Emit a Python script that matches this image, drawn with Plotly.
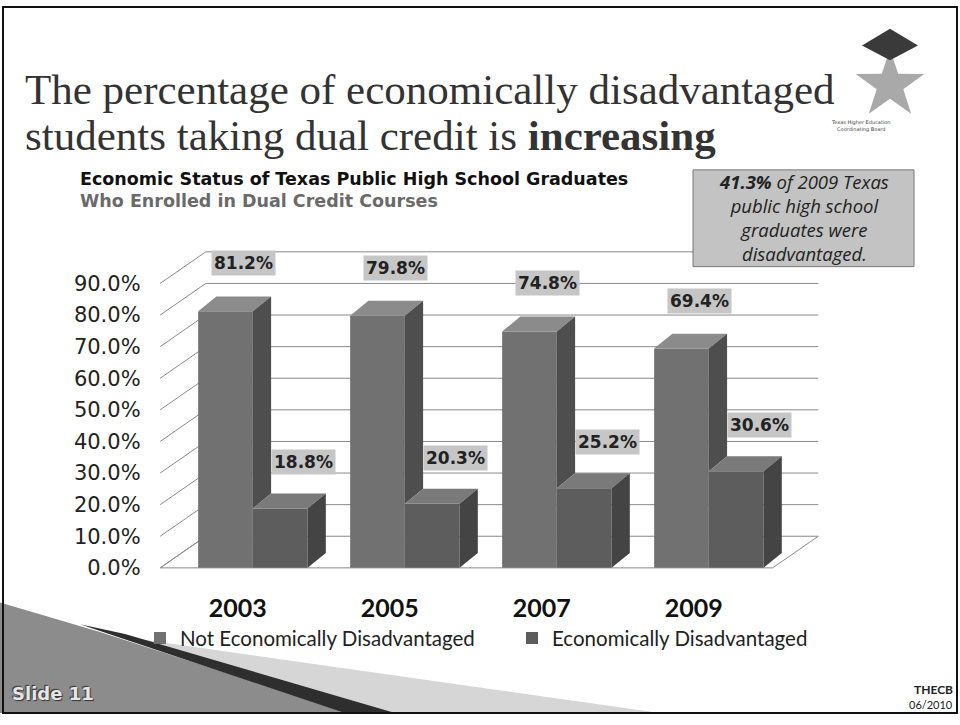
import plotly.graph_objects as go
import math

# ---------------- data ----------------
years = ["2003", "2005", "2007", "2009"]
not_disadv = [81.2, 79.8, 74.8, 69.4]
disadv = [18.8, 20.3, 25.2, 30.6]
series_names = ["Not Economically Disadvantaged", "Economically Disadvantaged"]
y_ticks = [0, 10, 20, 30, 40, 50, 60, 70, 80, 90]
callout_lines = ["<b>41.3%</b> of 2009 Texas", "public high school", "graduates were", "disadvantaged."]

W, H = 960, 725
def px(x):
    return x / W
def py(y):
    return 1 - y / H

xs = list(range(len(years)))
BW = 0.36          # bar width (category units)
OFF_NE, OFF_E = -0.42, -0.06
DX, DY = 0.12, 4.7  # bar depth (x units, value units)
WX, WY = 0.30, 10.0  # wall depth
LABEL_SHIFT = -0.16  # category labels sit on the front edge of the 3D floor

fig = go.Figure()
fig.add_trace(go.Bar(x=xs, y=not_disadv, name=series_names[0], width=BW, offset=OFF_NE,
                     marker=dict(color="#717171", line=dict(width=0))))
fig.add_trace(go.Bar(x=xs, y=disadv, name=series_names[1], width=BW, offset=OFF_E,
                     marker=dict(color="#5d5d5d", line=dict(width=0))))

shapes = []

def poly(pts, fill, layer="above", line="rgba(0,0,0,0)", lw=0, xref="x", yref="y"):
    d = "M " + " L ".join(f"{a},{b}" for a, b in pts) + " Z"
    shapes.append(dict(type="path", path=d, xref=xref, yref=yref, fillcolor=fill,
                       line=dict(color=line, width=lw), layer=layer))

# 3D wall / floor
x_left, x_right = -0.67, 3.36
poly([(x_left, 0), (x_right, 0), (x_right + WX, WY), (x_left + WX, WY)], "white",
     layer="below", line="#8a8a8a", lw=1)
for t in y_ticks:
    shapes.append(dict(type="line", xref="x", yref="y", x0=x_left, y0=t, x1=x_left + WX, y1=t + WY,
                       line=dict(color="#8a8a8a", width=1), layer="below"))
    if t > 0:
        shapes.append(dict(type="line", xref="x", yref="y", x0=x_left + WX, y0=t + WY,
                           x1=x_right + WX, y1=t + WY,
                           line=dict(color="#8a8a8a", width=1), layer="below"))

# 3D faces of bars
for i, (v, e) in zip(xs, zip(not_disadv, disadv)):
    a0, a1 = i + OFF_NE, i + OFF_NE + BW
    b0, b1 = i + OFF_E, i + OFF_E + BW
    poly([(a0, v), (a1, v), (a1 + DX, v + DY), (a0 + DX, v + DY)], "#8b8b8b")
    poly([(a1, e), (a1 + DX, e + DY), (a1 + DX, v + DY), (a1, v)], "#4e4e4e")
    poly([(b0, e), (b1, e), (b1 + DX, e + DY), (b0 + DX, e + DY)], "#7a7a7a")
    poly([(b1, 0), (b1 + DX, DY), (b1 + DX, e + DY), (b1, e)], "#444444")

annotations = []
lab_font = dict(family="DejaVu Sans", size=17, color="#222222", weight="bold")
for i, v, e in zip(xs, not_disadv, disadv):
    annotations.append(dict(x=i - 0.12, y=v, xref="x", yref="y", text=f"{v:.1f}%",
                            showarrow=False, yshift=48, font=lab_font, bgcolor="#c6c6c6", borderpad=2))
    annotations.append(dict(x=i + 0.27, y=e, xref="x", yref="y", text=f"{e:.1f}%",
                            showarrow=False, yshift=46, font=lab_font, bgcolor="#c6c6c6", borderpad=2))

# titles
tfont = dict(family="Liberation Serif", size=43, color="#333333")
annotations.append(dict(x=px(23), y=py(91), xref="paper", yref="paper", xanchor="left", yanchor="middle",
                        text="The percentage of economically disadvantaged", showarrow=False, font=tfont))
annotations.append(dict(x=px(23), y=py(137), xref="paper", yref="paper", xanchor="left", yanchor="middle",
                        text="students taking dual credit is <b>increasing</b>", showarrow=False, font=tfont))
annotations.append(dict(x=px(78), y=py(181), xref="paper", yref="paper", xanchor="left", yanchor="middle",
                        text="<b>Economic Status of Texas Public High School Graduates</b>", showarrow=False,
                        font=dict(family="DejaVu Sans", size=17.5, color="#111111")))
annotations.append(dict(x=px(78), y=py(204), xref="paper", yref="paper", xanchor="left", yanchor="middle",
                        text="<b>Who Enrolled in Dual Credit Courses</b>", showarrow=False,
                        font=dict(family="DejaVu Sans", size=17.5, color="#6a6a6a")))

# callout box
shapes.append(dict(type="rect", xref="paper", yref="paper", x0=px(693), x1=px(914), y0=py(270), y1=py(172),
                   fillcolor="#c3c3c3", line=dict(color="#777777", width=1), layer="above"))
annotations.append(dict(x=px(804), y=py(220), xref="paper", yref="paper",
                        xanchor="center", yanchor="middle", text="<br>".join(callout_lines),
                        showarrow=False, align="center",
                        font=dict(family="Open Sans", size=18.5, color="#222222", style="italic")))

# logo
cx, cy, R, r = 890, 86, 36, 14
pts = []
for k in range(10):
    ang = math.pi / 2 + k * math.pi / 5
    rad = R if k % 2 == 0 else r
    pts.append((px(cx + rad * math.cos(ang)), py(cy - rad * math.sin(ang))))
poly(pts, "#a9a9a9", xref="paper", yref="paper")
poly([(px(862), py(46)), (px(890), py(29)), (px(918), py(46)), (px(890), py(61))], "#3a3a3a",
     xref="paper", yref="paper")
annotations.append(dict(x=px(893), y=py(118), xref="paper", yref="paper", showarrow=False,
                        text="Texas Higher Education<br>Coordinating Board",
                        font=dict(family="DejaVu Sans", size=5, color="#444444")))

# bottom-left decoration
poly([(px(0), py(610)), (px(100), py(640)), (px(350), py(722)), (px(0), py(722))], "#8c8c8c",
     xref="paper", yref="paper")
poly([(px(110), py(643)), (px(660), py(722)), (px(380), py(722))], "#d6d6d6",
     xref="paper", yref="paper")
poly([(px(80), py(632)), (px(125), py(642)), (px(395), py(722)), (px(345), py(722))], "#2e2e2e",
     xref="paper", yref="paper")
annotations.append(dict(x=px(10), y=py(702), xref="paper", yref="paper", xanchor="left", yanchor="middle",
                        text="<b>Slide 11</b>", showarrow=False,
                        font=dict(family="DejaVu Sans", size=18, color="#e6e6e6",
                                  shadow="1px 1px 1px #333, -1px -1px 1px #333")))
annotations.append(dict(x=px(955), y=py(698), xref="paper", yref="paper", xanchor="right", yanchor="middle",
                        text="<b>THECB</b>", showarrow=False,
                        font=dict(family="Lato", size=12, color="#222222")))
annotations.append(dict(x=px(955), y=py(713), xref="paper", yref="paper", xanchor="right", yanchor="middle",
                        text="06/2010", showarrow=False,
                        font=dict(family="Lato", size=11, color="#222222")))

# slide border
shapes.append(dict(type="rect", xref="paper", yref="paper", x0=px(3), x1=px(957), y0=py(722), y1=py(7),
                   line=dict(color="#111111", width=2), fillcolor="rgba(0,0,0,0)", layer="above"))

fig.update_layout(
    width=W, height=H,
    margin=dict(l=0, r=0, t=0, b=0),
    paper_bgcolor="white", plot_bgcolor="rgba(0,0,0,0)",
    barmode="overlay",
    showlegend=True,
    legend=dict(orientation="h", x=px(140), y=py(626), xanchor="left", yanchor="top",
                font=dict(family="Lato", size=20.5, color="#222222"),
                entrywidth=327, entrywidthmode="pixels", bgcolor="rgba(0,0,0,0)", traceorder="normal"),
    xaxis=dict(domain=[px(155.6), px(842.6)], range=[-0.70, 3.82],
               tickvals=[i + LABEL_SHIFT for i in xs], ticktext=years,
               showgrid=False, zeroline=False, showline=False, ticks="",
               tickfont=dict(family="Lato", size=25, color="#111111", weight="bold"),
               ticklabelstandoff=20),
    yaxis=dict(domain=[py(578.2), py(245.4)], range=[-1, 103], tickvals=y_ticks,
               ticktext=[f"{t:.1f}%" for t in y_ticks],
               showgrid=False, zeroline=False, showline=False, ticks="",
               tickfont=dict(family="DejaVu Sans", size=21, color="#222222"),
               ticklabelstandoff=14),
    shapes=shapes,
    annotations=annotations,
)

fig.write_html("out.html")
